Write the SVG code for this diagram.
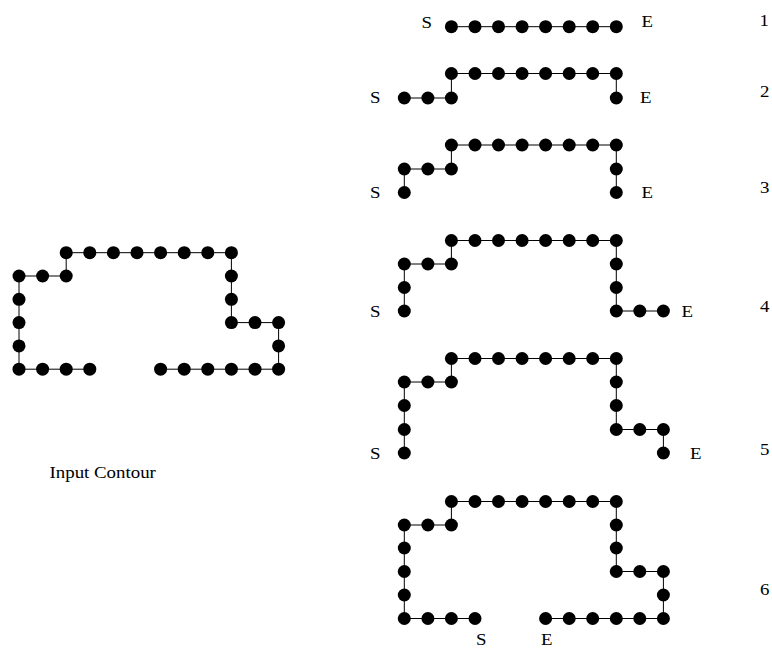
<svg xmlns="http://www.w3.org/2000/svg" width="772" height="649" viewBox="0 0 772 649">
<style>
.c{fill:none;stroke:#000;stroke-width:1}
.d{fill:#000}
.t{font-family:"Liberation Serif","Times New Roman",serif;font-size:16px;fill:#000}
</style>
<defs><circle id="dot" r="6.5" class="d"/></defs>
<rect width="772" height="649" fill="#fff"/>
<g id="connectors">
<path class="c" d="M89.8,369.2 H19 V276 H66.2 V252.7 H231.4 V322.6 H278.6 V369.2 H160.6"/>
<path class="c" d="M451.4,26.7 H616.3"/>
<path class="c" d="M404.3,98 H451.4 V73.5 H616.3 V98"/>
<path class="c" d="M404.3,192.5 V169 H451.4 V145 H616.3 V192.5"/>
<path class="c" d="M404.3,311 V264 H451.4 V240.5 H616.3 V311 H663.4"/>
<path class="c" d="M404.3,453 V382 H451.4 V358.5 H616.3 V429.5 H663.4 V453"/>
<path class="c" d="M475,618.5 H404.3 V525 H451.4 V501.5 H616.3 V571.5 H663.4 V618.5 H545.6"/>
</g>
<g id="input-contour">
<use href="#dot" x="66.2" y="252.7"/><use href="#dot" x="89.8" y="252.7"/><use href="#dot" x="113.4" y="252.7"/><use href="#dot" x="137" y="252.7"/><use href="#dot" x="160.6" y="252.7"/><use href="#dot" x="184.2" y="252.7"/><use href="#dot" x="207.8" y="252.7"/><use href="#dot" x="231.4" y="252.7"/>
<use href="#dot" x="19" y="276"/><use href="#dot" x="42.6" y="276"/><use href="#dot" x="66.2" y="276"/><use href="#dot" x="231.4" y="276"/>
<use href="#dot" x="19" y="299.3"/><use href="#dot" x="231.4" y="299.3"/>
<use href="#dot" x="19" y="322.6"/><use href="#dot" x="231.4" y="322.6"/><use href="#dot" x="255" y="322.6"/><use href="#dot" x="278.6" y="322.6"/>
<use href="#dot" x="19" y="345.9"/><use href="#dot" x="278.6" y="345.9"/>
<use href="#dot" x="19" y="369.2"/><use href="#dot" x="42.6" y="369.2"/><use href="#dot" x="66.2" y="369.2"/><use href="#dot" x="89.8" y="369.2"/>
<use href="#dot" x="160.6" y="369.2"/><use href="#dot" x="184.2" y="369.2"/><use href="#dot" x="207.8" y="369.2"/><use href="#dot" x="231.4" y="369.2"/><use href="#dot" x="255" y="369.2"/><use href="#dot" x="278.6" y="369.2"/>
<text class="t" transform="translate(49.5,478) scale(1.18,1)">Input Contour</text>
</g>
<g id="step-1">
<use href="#dot" x="451.4" y="26.7"/><use href="#dot" x="475" y="26.7"/><use href="#dot" x="498.5" y="26.7"/><use href="#dot" x="522.1" y="26.7"/><use href="#dot" x="545.6" y="26.7"/><use href="#dot" x="569.2" y="26.7"/><use href="#dot" x="592.7" y="26.7"/><use href="#dot" x="616.3" y="26.7"/>
<text class="t" transform="translate(421.5,27.5) scale(1.18,1)">S</text>
<text class="t" transform="translate(641.5,27) scale(1.18,1)">E</text>
<text class="t" transform="translate(759.5,26) scale(1.18,1)">1</text>
</g>
<g id="step-2">
<use href="#dot" x="451.4" y="73.5"/><use href="#dot" x="475" y="73.5"/><use href="#dot" x="498.5" y="73.5"/><use href="#dot" x="522.1" y="73.5"/><use href="#dot" x="545.6" y="73.5"/><use href="#dot" x="569.2" y="73.5"/><use href="#dot" x="592.7" y="73.5"/><use href="#dot" x="616.3" y="73.5"/>
<use href="#dot" x="404.3" y="98"/><use href="#dot" x="427.9" y="98"/><use href="#dot" x="451.4" y="98"/><use href="#dot" x="616.3" y="98"/>
<text class="t" transform="translate(370,103) scale(1.18,1)">S</text>
<text class="t" transform="translate(640,103) scale(1.18,1)">E</text>
<text class="t" transform="translate(760,97.3) scale(1.18,1)">2</text>
</g>
<g id="step-3">
<use href="#dot" x="451.4" y="145"/><use href="#dot" x="475" y="145"/><use href="#dot" x="498.5" y="145"/><use href="#dot" x="522.1" y="145"/><use href="#dot" x="545.6" y="145"/><use href="#dot" x="569.2" y="145"/><use href="#dot" x="592.7" y="145"/><use href="#dot" x="616.3" y="145"/>
<use href="#dot" x="404.3" y="169"/><use href="#dot" x="427.9" y="169"/><use href="#dot" x="451.4" y="169"/><use href="#dot" x="616.3" y="169"/>
<use href="#dot" x="404.3" y="192.5"/><use href="#dot" x="616.3" y="192.5"/>
<text class="t" transform="translate(370,198) scale(1.18,1)">S</text>
<text class="t" transform="translate(641.5,198) scale(1.18,1)">E</text>
<text class="t" transform="translate(760,193) scale(1.18,1)">3</text>
</g>
<g id="step-4">
<use href="#dot" x="451.4" y="240.5"/><use href="#dot" x="475" y="240.5"/><use href="#dot" x="498.5" y="240.5"/><use href="#dot" x="522.1" y="240.5"/><use href="#dot" x="545.6" y="240.5"/><use href="#dot" x="569.2" y="240.5"/><use href="#dot" x="592.7" y="240.5"/><use href="#dot" x="616.3" y="240.5"/>
<use href="#dot" x="404.3" y="264"/><use href="#dot" x="427.9" y="264"/><use href="#dot" x="451.4" y="264"/><use href="#dot" x="616.3" y="264"/>
<use href="#dot" x="404.3" y="287.5"/><use href="#dot" x="616.3" y="287.5"/>
<use href="#dot" x="404.3" y="311"/><use href="#dot" x="616.3" y="311"/><use href="#dot" x="639.8" y="311"/><use href="#dot" x="663.4" y="311"/>
<text class="t" transform="translate(370,317) scale(1.18,1)">S</text>
<text class="t" transform="translate(681.5,317) scale(1.18,1)">E</text>
<text class="t" transform="translate(760,312) scale(1.18,1)">4</text>
</g>
<g id="step-5">
<use href="#dot" x="451.4" y="358.5"/><use href="#dot" x="475" y="358.5"/><use href="#dot" x="498.5" y="358.5"/><use href="#dot" x="522.1" y="358.5"/><use href="#dot" x="545.6" y="358.5"/><use href="#dot" x="569.2" y="358.5"/><use href="#dot" x="592.7" y="358.5"/><use href="#dot" x="616.3" y="358.5"/>
<use href="#dot" x="404.3" y="382"/><use href="#dot" x="427.9" y="382"/><use href="#dot" x="451.4" y="382"/><use href="#dot" x="616.3" y="382"/>
<use href="#dot" x="404.3" y="405.5"/><use href="#dot" x="616.3" y="405.5"/>
<use href="#dot" x="404.3" y="429.5"/><use href="#dot" x="616.3" y="429.5"/><use href="#dot" x="639.8" y="429.5"/><use href="#dot" x="663.4" y="429.5"/>
<use href="#dot" x="404.3" y="453"/><use href="#dot" x="663.4" y="453"/>
<text class="t" transform="translate(370,459) scale(1.18,1)">S</text>
<text class="t" transform="translate(690,459) scale(1.18,1)">E</text>
<text class="t" transform="translate(760,455) scale(1.18,1)">5</text>
</g>
<g id="step-6">
<use href="#dot" x="451.4" y="501.5"/><use href="#dot" x="475" y="501.5"/><use href="#dot" x="498.5" y="501.5"/><use href="#dot" x="522.1" y="501.5"/><use href="#dot" x="545.6" y="501.5"/><use href="#dot" x="569.2" y="501.5"/><use href="#dot" x="592.7" y="501.5"/><use href="#dot" x="616.3" y="501.5"/>
<use href="#dot" x="404.3" y="525"/><use href="#dot" x="427.9" y="525"/><use href="#dot" x="451.4" y="525"/><use href="#dot" x="616.3" y="525"/>
<use href="#dot" x="404.3" y="548"/><use href="#dot" x="616.3" y="548"/>
<use href="#dot" x="404.3" y="571.5"/><use href="#dot" x="616.3" y="571.5"/><use href="#dot" x="639.8" y="571.5"/><use href="#dot" x="663.4" y="571.5"/>
<use href="#dot" x="404.3" y="595"/><use href="#dot" x="663.4" y="595"/>
<use href="#dot" x="404.3" y="618.5"/><use href="#dot" x="427.9" y="618.5"/><use href="#dot" x="451.4" y="618.5"/><use href="#dot" x="475" y="618.5"/>
<use href="#dot" x="545.6" y="618.5"/><use href="#dot" x="569.2" y="618.5"/><use href="#dot" x="592.7" y="618.5"/><use href="#dot" x="616.3" y="618.5"/><use href="#dot" x="639.8" y="618.5"/><use href="#dot" x="663.4" y="618.5"/>
<text class="t" transform="translate(476,645) scale(1.18,1)">S</text>
<text class="t" transform="translate(541,645) scale(1.18,1)">E</text>
<text class="t" transform="translate(760,595) scale(1.18,1)">6</text>
</g>
</svg>
